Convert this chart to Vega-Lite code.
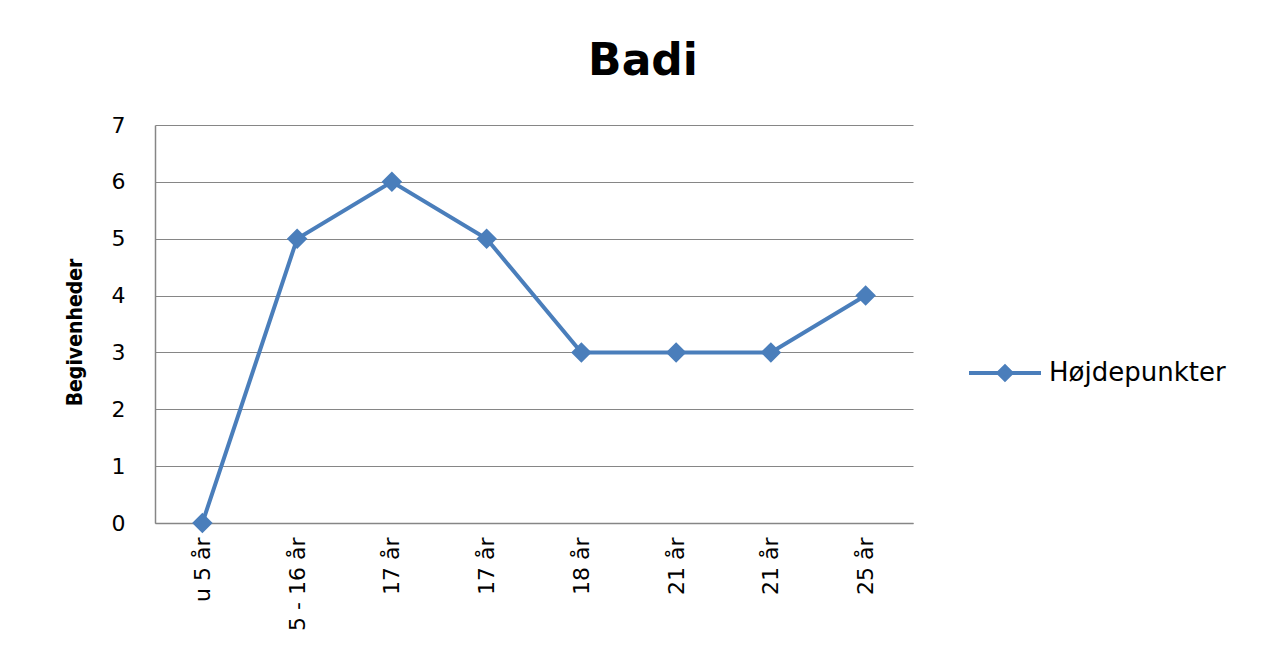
{
  "$schema": "https://vega.github.io/schema/vega-lite/v6.json",
  "autosize": "none",
  "width": 758,
  "height": 398,
  "padding": {"left": 155, "top": 125, "right": 363, "bottom": 125},
  "background": "white",
  "title": {
    "text": "Badi",
    "fontSize": 44,
    "font": "DejaVu Sans",
    "fontWeight": "bold",
    "color": "#000000",
    "anchor": "middle",
    "dx": 109,
    "offset": 30
  },
  "data": {
    "values": [
      {"kategori": "u 5 år", "serie": "Højdepunkter", "begivenheder": 0},
      {"kategori": "5 - 16 år", "serie": "Højdepunkter", "begivenheder": 5},
      {"kategori": "17 år", "serie": "Højdepunkter", "begivenheder": 6},
      {"kategori": "17 år ", "serie": "Højdepunkter", "begivenheder": 5},
      {"kategori": "18 år", "serie": "Højdepunkter", "begivenheder": 3},
      {"kategori": "21 år", "serie": "Højdepunkter", "begivenheder": 3},
      {"kategori": "21 år ", "serie": "Højdepunkter", "begivenheder": 3},
      {"kategori": "25 år", "serie": "Højdepunkter", "begivenheder": 4}
    ]
  },
  "mark": {"type": "line", "strokeWidth": 4, "point": {"shape": "diamond", "size": 420, "filled": true, "opacity": 1}},
  "encoding": {
    "x": {
      "field": "kategori",
      "type": "ordinal",
      "sort": null,
      "scale": {"type": "point", "padding": 0.5},
      "axis": {
        "title": null,
        "labelAngle": -90,
        "labelExpr": "trim(datum.value)",
        "labelFont": "DejaVu Sans",
        "labelFontSize": 22,
        "labelColor": "#000000",
        "labelPadding": 14,
        "ticks": false,
        "domain": true,
        "domainColor": "#868686",
        "domainWidth": 1.5,
        "grid": false
      }
    },
    "y": {
      "field": "begivenheder",
      "type": "quantitative",
      "scale": {"domain": [0, 7], "nice": false},
      "axis": {
        "title": "Begivenheder",
        "titleFont": "DejaVu Sans Condensed",
        "titleFontSize": 21,
        "titleFontWeight": "bold",
        "titleColor": "#000000",
        "titleX": -80,
        "titleY": 207,
        "titleAngle": -90,
        "titleBaseline": "middle",
        "titleAlign": "center",
        "values": [0, 1, 2, 3, 4, 5, 6, 7],
        "labelFont": "DejaVu Sans",
        "labelFontSize": 22,
        "labelColor": "#000000",
        "labelPadding": 30,
        "ticks": false,
        "domain": true,
        "domainColor": "#868686",
        "domainWidth": 1.5,
        "grid": true,
        "gridColor": "#868686",
        "gridWidth": 1
      }
    },
    "color": {
      "field": "serie",
      "type": "nominal",
      "scale": {"range": ["#4A7EBB"]},
      "legend": {
        "title": null,
        "orient": "none",
        "legendX": 812,
        "legendY": 210,
        "symbolType": "M-1,0H1M-0.18,0L0,-0.18L0.18,0L0,0.18Z",
        "symbolSize": 5184,
        "symbolStrokeWidth": 4,
        "symbolFillColor": "#4A7EBB",
        "symbolStrokeColor": "#4A7EBB",
        "labelFont": "DejaVu Sans",
        "labelFontSize": 26,
        "labelLimit": 400,
        "labelColor": "#000000",
        "labelOffset": 6
      }
    }
  },
  "config": {
    "view": {"stroke": null}
  }
}
